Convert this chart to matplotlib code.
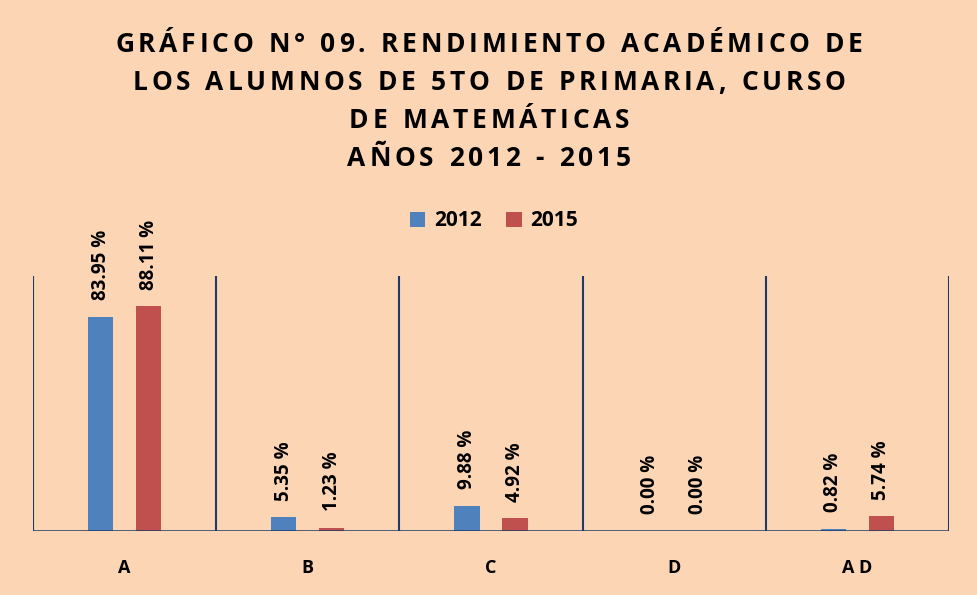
import matplotlib.pyplot as plt
import numpy as np

plt.rcParams['font.family'] = ['Open Sans', 'DejaVu Sans']

categories = ['A', 'B', 'C', 'D', 'AD']
years = ['2012', '2015']
values_2012 = [83.95, 5.35, 9.88, 0.00, 0.82]
values_2015 = [88.11, 1.23, 4.92, 0.00, 5.74]
title_lines = ['GRÁFICO N° 09. RENDIMIENTO ACADÉMICO DE',
               'LOS ALUMNOS DE 5TO DE PRIMARIA, CURSO',
               'DE MATEMÁTICAS',
               'AÑOS 2012 - 2015']

bg = '#FCD5B5'
line_color = '#1F3A68'
colors = ['#4F81BD', '#C0504D']

W, H = 978, 595
fig = plt.figure(figsize=(W / 100, H / 100), dpi=100, facecolor=bg)
ax = fig.add_axes([33 / W, 1 - 531 / H, 916 / W, 255 / H])
ax.set_facecolor(bg)

x = np.arange(len(categories))
width = 0.137
offset = 0.131

for vals, off, col, lab in zip([values_2012, values_2015], [-offset, offset], colors, years):
    bars = ax.bar(x + off, vals, width, color=col, label=lab, zorder=2)
    for b, v in zip(bars, vals):
        ax.annotate(f'{v:.2f} %', xy=(b.get_x() + b.get_width() / 2, v),
                    xytext=(0, 12), textcoords='offset points',
                    rotation=90, ha='center', va='bottom',
                    fontsize=13.5, fontweight='bold', color='black')

ax.set_xlim(-0.5, len(categories) - 0.5)
ax.set_ylim(0, 100)

# category separators
for xb in np.arange(-0.5, len(categories), 1.0):
    ax.axvline(xb, color=line_color, lw=1.5, zorder=1)
for s in ax.spines.values():
    s.set_visible(False)
ax.axhline(0, color=line_color, lw=1.8, zorder=3)

ax.set_yticks([])
ax.set_xticks(x)
ax.set_xticklabels([' '.join(c) for c in categories], fontsize=13, fontweight='bold')
ax.tick_params(axis='x', length=0, pad=20)

renderer = fig.canvas.get_renderer()


def spaced_text(s, cx, cy, size, track):
    # draw a line of text character by character with extra letter spacing
    widths = []
    for ch in s:
        t = fig.text(0, 0, ch if ch != ' ' else 'i', fontsize=size, fontweight='bold')
        widths.append(t.get_window_extent(renderer).width)
        t.remove()
    total = sum(widths) + track * (len(s) - 1)
    px = cx - total / 2
    for ch, w in zip(s, widths):
        if ch != ' ':
            fig.text(px / W, 1 - cy / H, ch, fontsize=size, fontweight='bold',
                     ha='left', va='center')
        px += w + track


for line, cy in zip(title_lines, [45, 83, 121, 159]):
    spaced_text(line, 489, cy, 19, 3.7)

leg = fig.legend(loc='center', bbox_to_anchor=(494 / W, 1 - 221 / H), ncol=2,
                 frameon=False, fontsize=15, handlelength=0.75, handleheight=0.75,
                 handletextpad=0.4, columnspacing=1.2)
for t in leg.get_texts():
    t.set_fontweight('bold')

fig.savefig('out.png', dpi=100, facecolor=bg)
